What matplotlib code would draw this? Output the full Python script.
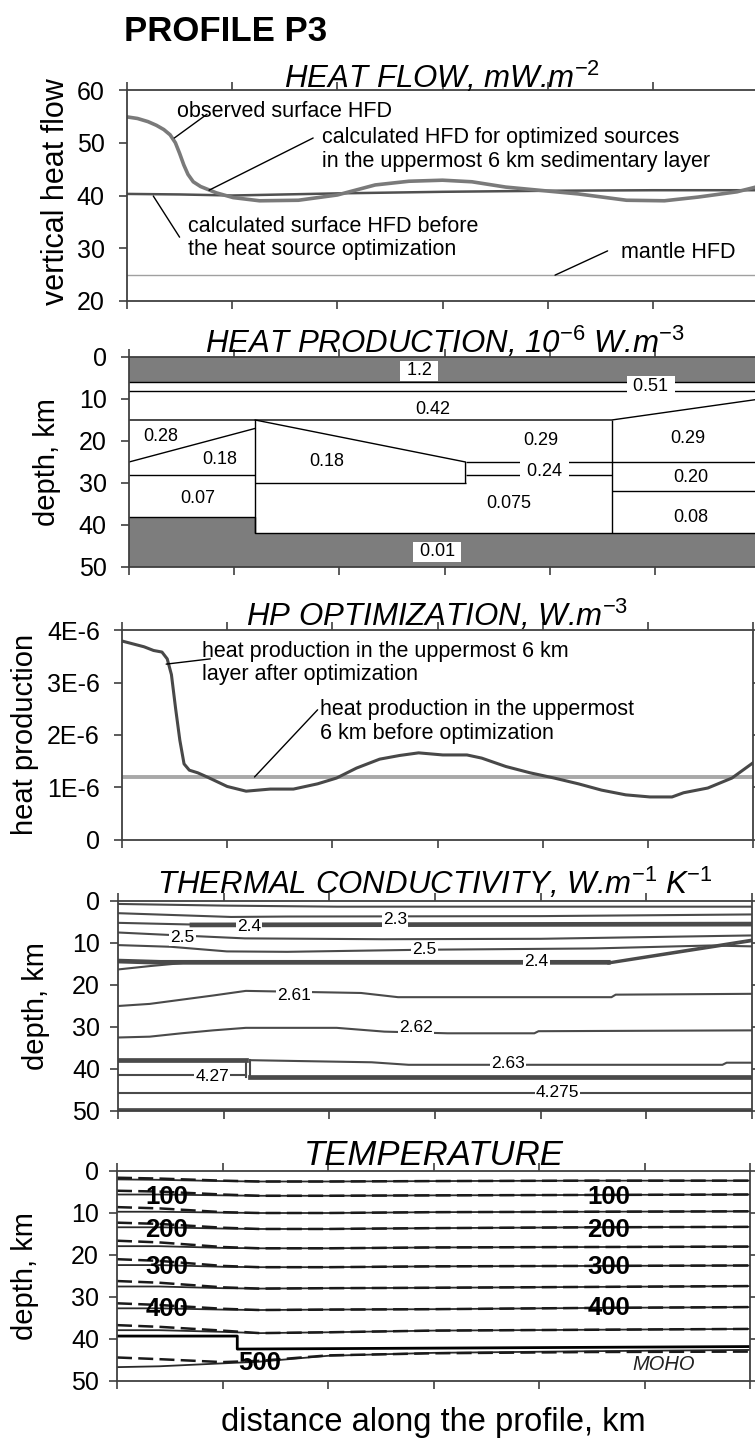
import matplotlib.pyplot as plt
import numpy as np

plt.rcParams['font.family'] = ['Liberation Sans', 'DejaVu Sans']
plt.rcParams['mathtext.fontset'] = 'custom'
plt.rcParams['mathtext.rm'] = 'Liberation Sans'
plt.rcParams['mathtext.it'] = 'Liberation Sans:italic'
plt.rcParams['mathtext.default'] = 'it'

W, H = 755, 1439
FRAME = '#404040'

# ---------------- data ----------------
ticks_km = [0, 100, 200, 300, 400, 500, 600]

# heat flow density, mW/m2
hf_obs_x = [0, 10, 20, 28, 35, 41, 46, 50, 54, 58, 63, 70, 85, 101, 126, 163, 200,
            236, 268, 300, 328, 360, 397, 429, 475, 511, 543, 580, 600]
hf_obs = [54.9, 54.6, 54.0, 53.3, 52.5, 51.5, 50.0, 48.0, 45.8, 44.0, 42.6, 41.7,
          40.5, 39.6, 39.0, 39.1, 40.1, 42.0, 42.7, 42.9, 42.6, 41.6, 40.9, 40.3,
          39.1, 39.0, 39.7, 40.7, 41.7]
hf_before_x = [0, 50, 100, 200, 300, 400, 500, 600]
hf_before = [40.3, 40.2, 40.0, 40.4, 40.7, 40.9, 41.0, 41.0]
hf_mantle = 25.0

# heat production model (depth km), layer boundaries
hp_top_band = 6
hp_thin_base = 8
hp_base042_x = [0, 459, 600]
hp_base042_d = [15, 15, 10]
hp_left_slope_x = [0, 120]
hp_left_slope_d = [25, 17]
hp_mid_slope_x = [120, 320, 320]
hp_mid_slope_d = [15, 25, 30]
hp_moho_x = [0, 120, 120, 600]
hp_moho_d = [38, 38, 42, 42]
hp_vert_x = [120, 459]
hp_vert_top = [15, 15]
hp_vert_bot = [42, 42]
hp_seg_x0 = [0, 120, 320, 320, 459, 459]
hp_seg_x1 = [120, 320, 459, 459, 600, 600]
hp_seg_d = [28, 30, 25, 28, 25, 32]
hp_lab = ['0.42', '0.28', '0.18', '0.07', '0.18', '0.29', '0.075', '0.29', '0.20', '0.08']
hp_lab_x = [289, 30, 86, 65, 188, 392, 361, 531, 534, 534]
hp_lab_d = [12.4, 19.0, 24.5, 33.6, 24.8, 19.8, 35.0, 19.5, 28.6, 38.1]
hp_box_lab = ['1.2', '0.51', '0.24', '0.01']
hp_box_x = [276, 496, 395, 293]
hp_box_d = [3.3, 7.0, 27.2, 46.4]

# HP optimization, W/m3
hp_opt_x = [0, 21, 30, 38, 43, 47, 51, 55, 59, 64, 72, 81, 100, 118, 141, 163, 186,
            204, 223, 245, 264, 282, 305, 328, 342, 365, 388, 411, 434, 456, 479,
            502, 523, 534, 557, 580, 600]
hp_opt = np.array([3.79, 3.68, 3.61, 3.58, 3.45, 3.15, 2.50, 1.90, 1.45, 1.33, 1.28,
                   1.20, 1.02, 0.93, 0.97, 0.97, 1.07, 1.18, 1.37, 1.54, 1.61, 1.66,
                   1.62, 1.62, 1.56, 1.40, 1.28, 1.18, 1.07, 0.95, 0.86, 0.82, 0.82,
                   0.90, 0.99, 1.18, 1.47]) * 1e-6
hp_before = 1.2e-6

# thermal conductivity isolines (depth km)
tc_thin_x = [[0, 100, 207, 600],
             [0, 107, 160, 400, 600],
             [0, 70],
             [0, 50, 120, 250, 400, 600],
             [0, 50, 103, 160, 290, 450, 560, 600],
             [0, 30, 60],
             [464, 602], [464, 602],
             [0, 30, 60, 90, 121, 230, 265, 467, 471, 600],
             [0, 30, 60, 90, 121, 207, 252, 312, 394, 398, 600],
             [121, 121], [125, 125],
             [125, 170, 240, 275, 572, 576, 600],
             [0, 121],
             [0, 600]]
tc_thin_d = [[0.7, 1.1, 1.35, 1.35],
             [2.9, 3.8, 3.7, 3.6, 3.2],
             [5.2, 5.6],
             [7.5, 8.1, 8.9, 9.1, 9.0, 8.2],
             [10.5, 10.9, 12.0, 12.1, 11.6, 11.3, 10.6, 10.8],
             [16.3, 15.5, 14.8],
             [14.6, 9.1], [14.9, 9.5],
             [25.0, 24.5, 23.5, 22.5, 21.4, 21.9, 22.9, 22.9, 22.3, 22.1],
             [32.5, 32.3, 31.5, 30.8, 30.2, 30.2, 31.1, 31.5, 31.5, 31.0, 30.8],
             [37.9, 41.8], [37.9, 41.8],
             [37.9, 38.1, 38.4, 39.0, 39.0, 38.5, 38.5],
             [41.4, 41.4],
             [45.6, 45.6]]
tc_thick_x = [[70, 600], [0, 40, 464], [0, 121], [125, 600], [0, 600]]
tc_thick_d = [[5.7, 5.5], [14.3, 14.6, 14.6], [37.9, 37.9], [41.8, 41.8], [49.8, 49.8]]
tc_lab = ['2.3', '2.4', '2.5', '2.5', '2.4', '2.61', '2.62', '2.63', '4.27', '4.275']
tc_lab_x = [262, 124, 61, 290, 396, 167, 282, 369, 89, 416]
tc_lab_d = [4.5, 6.1, 8.6, 11.5, 14.5, 22.5, 30.2, 38.8, 41.8, 45.5]

# temperature isotherms (depth km), solid and dashed versions
iso_x = [0, 40, 100, 135, 200, 300, 450, 600]
iso_solid = [[2.0, 2.1, 2.4, 2.5, 2.5, 2.4, 2.3, 2.3],
             [5.6, 5.6, 5.8, 5.9, 5.9, 5.8, 5.7, 5.6],
             [9.7, 9.7, 9.9, 10.0, 10.0, 9.8, 9.7, 9.6],
             [13.4, 13.4, 13.7, 13.8, 13.8, 13.6, 13.4, 13.3],
             [17.9, 17.9, 18.3, 18.4, 18.4, 18.2, 18.1, 18.0],
             [22.4, 22.4, 22.8, 22.9, 22.9, 22.7, 22.6, 22.5],
             [27.5, 27.5, 27.9, 28.0, 27.9, 27.8, 27.6, 27.4],
             [32.7, 32.7, 33.0, 33.1, 33.0, 32.9, 32.6, 32.4],
             [37.9, 37.9, 38.3, 38.6, 38.4, 38.0, 37.8, 37.6],
             [46.7, 46.5, 45.8, 45.4, 44.0, 43.3, 42.9, 42.6]]
iso_dashed = [[1.6, 1.8, 2.3, 2.5, 2.5, 2.4, 2.3, 2.3],
              [4.7, 4.9, 5.6, 5.9, 5.9, 5.8, 5.7, 5.6],
              [8.6, 8.9, 9.8, 10.0, 10.0, 9.8, 9.7, 9.6],
              [12.3, 12.6, 13.5, 13.8, 13.8, 13.6, 13.4, 13.3],
              [16.6, 17.0, 18.1, 18.4, 18.4, 18.2, 18.1, 18.0],
              [21.0, 21.4, 22.6, 22.9, 22.9, 22.7, 22.6, 22.5],
              [26.2, 26.6, 27.7, 28.0, 27.9, 27.8, 27.6, 27.4],
              [31.5, 31.9, 32.8, 33.1, 33.0, 32.9, 32.6, 32.4],
              [36.7, 37.1, 38.0, 38.6, 38.4, 38.0, 37.8, 37.6],
              [44.4, 44.8, 45.5, 45.2, 43.9, 43.4, 43.1, 43.0]]
moho_x = [0, 114, 114, 600]
moho_d = [39.3, 39.3, 42.4, 41.8]
iso_lab = ['100', '200', '300', '400', '100', '200', '300', '400', '500']
iso_lab_x = [47, 47, 47, 47, 466, 466, 466, 466, 135]
iso_lab_d = [6.1, 14.0, 22.9, 32.8, 6.1, 14.0, 22.9, 32.6, 45.6]


# ---------------- drawing ----------------
fig = plt.figure(figsize=(W / 100, H / 100), dpi=100)


def panel(left, top, right, bottom, pad):
    ax = fig.add_axes([left / W, 1 - bottom / H, (right - left) / W, (bottom - top) / H])
    for s in ax.spines.values():
        s.set_color(FRAME)
        s.set_linewidth(1.3)
    ax.set_xlim(0, 600)
    ax.set_xticks(ticks_km)
    ax.tick_params(direction='out', length=6, width=1.2, colors=FRAME,
                   labelcolor='black', labelsize=18, pad=pad)
    ax.tick_params(axis='x', top=True, labelbottom=False)
    return ax


def title(ax, text, lift, size=22.5):
    ax.text(0.5, 1 + lift, text, transform=ax.transAxes, ha='center',
            va='baseline', fontsize=size, fontstyle='italic')


def ylabel(text, x, y, size=21):
    fig.text(x / W, 1 - y / H, text, rotation=90, ha='center', va='center', fontsize=size)


def leader(ax, p0, p1, color='black'):
    ax.annotate('', xy=p0, xytext=p1,
                arrowprops=dict(arrowstyle='-', color=color, lw=1.0, shrinkA=0, shrinkB=0))


fig.text(124 / W, 1 - 41 / H, 'PROFILE P3', fontsize=25, fontweight='bold',
         ha='left', va='baseline')

# --- heat flow ---
ax1 = panel(127, 90, 758, 301, 10)
ax1.set_ylim(20, 60)
ax1.set_yticks([20, 30, 40, 50, 60])
ax1.axhline(hf_mantle, color='#a0a0a0', lw=1.0)
ax1.plot(hf_before_x, hf_before, color='#505050', lw=1.8)
ax1.plot(hf_obs_x, hf_obs, color='#7a7a7a', lw=2.6)
title(ax1, r'HEAT FLOW, mW.m$^{-2}$', 0.01)
ylabel('vertical heat flow', 56, 192, size=22)
fs = 15.5
ax1.text(48, 56.0, 'observed surface HFD', fontsize=fs, va='center')
leader(ax1, (45, 50.9), (76, 55.4))
ax1.text(185, 48.7, 'calculated HFD for optimized sources\nin the uppermost 6 km sedimentary layer',
         fontsize=fs, va='center', linespacing=1.15)
leader(ax1, (78, 41.0), (177, 50.9))
ax1.text(58, 32.0, 'calculated surface HFD before\nthe heat source optimization',
         fontsize=fs, va='center', linespacing=1.15)
leader(ax1, (25, 39.9), (50, 32.1))
ax1.text(470, 29.1, 'mantle HFD', fontsize=fs, va='center')
leader(ax1, (407, 24.9), (457, 29.5))

# --- heat production ---
ax2 = panel(129, 357, 760, 567, 10)
ax2.set_ylim(50, 0)
ax2.set_yticks([0, 10, 20, 30, 40, 50])
DARK = '#7d7d7d'
ax2.fill_between([0, 600], 0, hp_top_band, color=DARK, lw=0)
ax2.fill_between(hp_moho_x, hp_moho_d, 50, color=DARK, lw=0)
lk = dict(color='black', lw=1.0)
ax2.plot([0, 600], [hp_top_band, hp_top_band], **lk)
ax2.plot([0, 600], [hp_thin_base, hp_thin_base], **lk)
ax2.plot(hp_base042_x, hp_base042_d, **lk)
ax2.plot(hp_left_slope_x, hp_left_slope_d, **lk)
ax2.plot(hp_mid_slope_x, hp_mid_slope_d, **lk)
ax2.plot(hp_moho_x, hp_moho_d, **lk)
ax2.vlines(hp_vert_x, hp_vert_top, hp_vert_bot, **lk)
ax2.hlines(hp_seg_d, hp_seg_x0, hp_seg_x1, **lk)
for t, x, d in zip(hp_lab, hp_lab_x, hp_lab_d):
    ax2.text(x, d, t, fontsize=13, ha='center', va='center')
for t, x, d in zip(hp_box_lab, hp_box_x, hp_box_d):
    ax2.text(x, d, ' ' + t + ' ', fontsize=13, ha='center', va='center',
             bbox=dict(facecolor='white', edgecolor='none', pad=1.2))
title(ax2, r'HEAT PRODUCTION, 10$^{-6}$ W.m$^{-3}$', 0.019)
ylabel('depth, km', 47, 462)

# --- HP optimization ---
ax3 = panel(122, 630, 753, 840, 10)
ax3.set_ylim(0, 4e-6)
ax3.set_yticks([0, 1e-6, 2e-6, 3e-6, 4e-6])
ax3.set_yticklabels(['0', '1E-6', '2E-6', '3E-6', '4E-6'])
ax3.tick_params(axis='y', right=True)
ax3.axhline(hp_before, color='#a8a8a8', lw=2.8)
ax3.plot(hp_opt_x, hp_opt, color='#484848', lw=2.2)
title(ax3, r'HP OPTIMIZATION, W.m$^{-3}$', 0.019)
ylabel('heat production', 25, 734)
ax3.text(76, 3.37e-6, 'heat production in the uppermost 6 km\nlayer after optimization',
         fontsize=fs, va='center', linespacing=1.15)
leader(ax3, (42, 3.35e-6), (84, 3.45e-6))
ax3.text(188, 2.26e-6, 'heat production in the uppermost\n6 km before optimization',
         fontsize=fs, va='center', linespacing=1.15)
leader(ax3, (126, 1.2e-6), (186, 2.48e-6))

# --- thermal conductivity ---
ax4 = panel(118, 901, 752, 1111, 7)
ax4.set_ylim(50, 0)
ax4.set_yticks([0, 10, 20, 30, 40, 50])
ax4.tick_params(axis='y', right=True)
LC = '#4a4a4a'
for xs, ds in zip(tc_thin_x, tc_thin_d):
    ax4.plot(xs, ds, color=LC, lw=1.5)
for xs, ds in zip(tc_thick_x, tc_thick_d):
    ax4.plot(xs, ds, color=LC, lw=3.4)
for t, x, d in zip(tc_lab, tc_lab_x, tc_lab_d):
    ax4.text(x, d, t, fontsize=12.5, ha='center', va='center',
             bbox=dict(facecolor='white', edgecolor='none', pad=0.8))
title(ax4, r'THERMAL CONDUCTIVITY, W.m$^{-1}$ K$^{-1}$', 0.035)
ylabel('depth, km', 36, 1006)

# --- temperature ---
ax5 = panel(117, 1171, 750, 1381, 7)
ax5.set_ylim(50, 0)
ax5.set_yticks([0, 10, 20, 30, 40, 50])
ax5.tick_params(axis='y', right=True)
for ds in iso_solid:
    ax5.plot(iso_x, ds, color='#2a2a2a', lw=1.3)
for ds in iso_dashed:
    ax5.plot(iso_x, ds, color='#1a1a1a', lw=1.8, linestyle=(0, (6, 2.5)))
ax5.plot(moho_x, moho_d, color='black', lw=2.0)
for t, x, d in zip(iso_lab, iso_lab_x, iso_lab_d):
    ax5.text(x, d, t, fontsize=18.5, fontweight='bold', ha='center', va='center')
ax5.text(518, 46.0, 'MOHO', fontsize=14.5, fontstyle='italic', ha='center', va='center', color='#222222')
title(ax5, 'TEMPERATURE', 0.029, size=25)
ylabel('depth, km', 25, 1276)

fig.text(433 / W, 1 - 1422 / H, 'distance along the profile, km', fontsize=23.5,
         ha='center', va='center')

fig.savefig('out.png', dpi=100)
